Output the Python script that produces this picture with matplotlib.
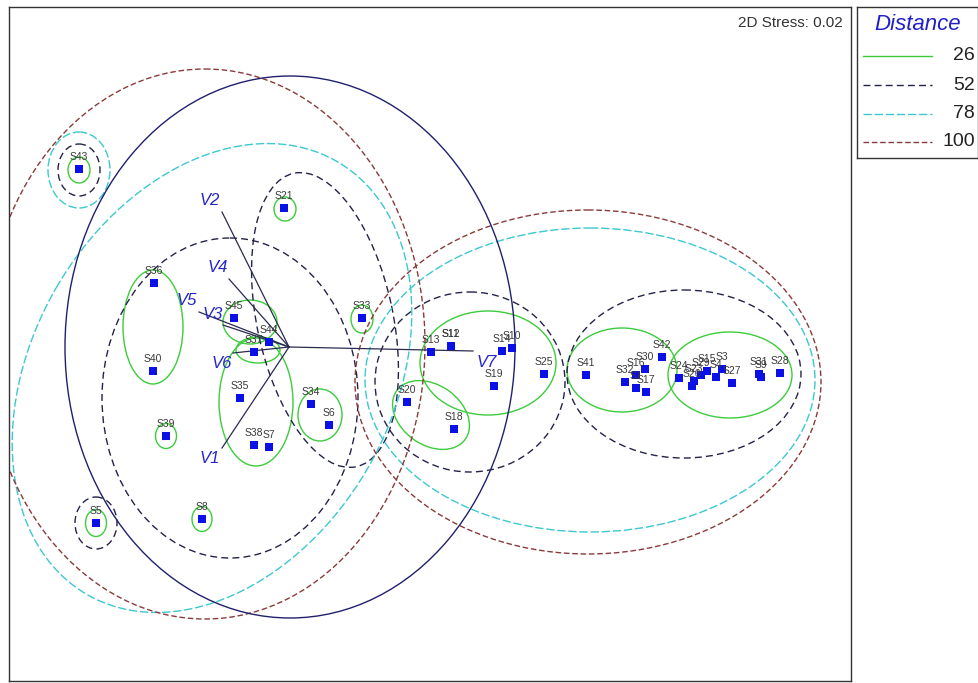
import matplotlib.pyplot as plt
from matplotlib.patches import Ellipse

plt.rcParams['font.family'] = ['Liberation Sans', 'DejaVu Sans']

# MDS sample positions (plot units, y grows downward)
samples = ['S43', 'S21', 'S36', 'S40', 'S45', 'S44', 'S37', 'S35', 'S34', 'S6',
           'S39', 'S38', 'S7', 'S33', 'S5', 'S8', 'S13', 'S12', 'S11', 'S14',
           'S10', 'S19', 'S25', 'S20', 'S18', 'S41', 'S32', 'S16', 'S30', 'S1',
           'S17', 'S42', 'S24', 'S26', 'S23', 'S29', 'S15', 'S4', 'S3', 'S27',
           'S31', 'S9', 'S28']
sx = [79, 284, 154, 153, 234, 269, 254, 240, 311, 329,
      166, 254, 269, 362, 96, 202, 431, 451, 451, 502,
      512, 494, 544, 407, 454, 586, 625, 636, 645, 636,
      646, 662, 679, 692, 694, 701, 707, 716, 722, 732,
      759, 761, 780]
sy = [169, 208, 283, 371, 318, 342, 352, 398, 404, 425,
      436, 445, 447, 318, 523, 519, 352, 346, 346, 351,
      348, 386, 374, 402, 429, 375, 382, 375, 369, 388,
      392, 357, 378, 386, 381, 375, 371, 377, 369, 383,
      374, 377, 373]

# variable vectors
vec_names = ['V1', 'V2', 'V3', 'V4', 'V5', 'V6', 'V7']
vec_x = [222, 222, 223, 229, 199, 233, 473]
vec_y = [448, 212, 325, 279, 312, 353, 351]
vec_lab_x = [210, 210, 213, 218, 187, 222, 487]
vec_lab_y = [458, 200, 314, 267, 300, 363, 362]
origin = (289, 347)
circle = (290, 347, 225, 271)

# cluster outlines at each distance level: centre x, centre y, half width, half height, angle
levels = ['26', '52', '78', '100']
g26_cx = [79, 285, 153, 250, 258, 256, 320, 166, 362, 96, 202, 488, 431, 622, 730]
g26_cy = [170, 209, 327, 322, 350, 402, 415, 436, 319, 523, 519, 363, 415, 370, 375]
g26_rx = [11, 11, 30, 27, 22, 37, 22, 10.5, 11, 10.5, 10, 68, 42, 55, 62]
g26_ry = [13, 12, 57, 22, 13, 64, 26, 12.5, 14, 13.5, 12.5, 52, 30, 42, 43]
g26_ang = [0, 0, 0, 0, 0, 0, 0, 0, 0, 0, 0, 0, 35, 0, 0]

g52_cx = [79, 96, 325, 230, 470, 684]
g52_cy = [170, 523, 320, 398, 382, 374]
g52_rx = [21, 21, 150, 128, 95, 117]
g52_ry = [26, 26, 68, 160, 90, 84]
g52_ang = [0, 0, 78, 0, 0, 0]

g78_cx = [79, 212, 590]
g78_cy = [170, 378, 380]
g78_rx = [31, 250, 225]
g78_ry = [38, 180, 152]
g78_ang = [0, -60, 0]

g100_cx = [205, 588]
g100_cy = [344, 382]
g100_rx = [220, 233]
g100_ry = [275, 172]
g100_ang = [0, 0]

groups = [(g26_cx, g26_cy, g26_rx, g26_ry, g26_ang),
          (g52_cx, g52_cy, g52_rx, g52_ry, g52_ang),
          (g78_cx, g78_cy, g78_rx, g78_ry, g78_ang),
          (g100_cx, g100_cy, g100_rx, g100_ry, g100_ang)]
colors = ['#3ccc3c', '#23234a', '#3cc8d0', '#8a3a3a']
styles = ['-', (0, (5, 3)), (0, (6, 2)), (0, (4, 2))]

W, H = 979, 683
fig = plt.figure(figsize=(W / 100, H / 100), dpi=100)
ax = fig.add_axes([9 / W, 1 - 681 / H, 842 / W, 674 / H])
ax.set_xlim(9, 851)
ax.set_ylim(681, 7)
ax.set_xticks([])
ax.set_yticks([])
for s in ax.spines.values():
    s.set_linewidth(1.0)
    s.set_color('#333333')

# outlines
for (cx, cy, rx, ry, ang), c, ls in zip(groups, colors, styles):
    for i in range(len(cx)):
        ax.add_patch(Ellipse((cx[i], cy[i]), 2 * rx[i], 2 * ry[i], angle=ang[i],
                             fill=False, ec=c, ls=ls, lw=1.0, zorder=2))

# vector circle
ax.add_patch(Ellipse(circle[:2], 2 * circle[2], 2 * circle[3], fill=False,
                     ec='#20206e', lw=1.0, zorder=2))

# vectors
for i in range(len(vec_names)):
    ax.plot([origin[0], vec_x[i]], [origin[1], vec_y[i]], color='#2a2a50', lw=0.9, zorder=3)
    ax.text(vec_lab_x[i], vec_lab_y[i], vec_names[i], color='#2626c8', fontsize=12,
            style='italic', ha='center', va='center', zorder=5)

# samples
ax.scatter(sx, sy, marker='s', s=30, color='#0a10e6', zorder=4, linewidths=0)
for n, x, y in zip(samples, sx, sy):
    ax.text(x, y - 12, n, fontsize=7.5, color='#3a3a3a', ha='center', va='center', zorder=5)

ax.text(843, 23, '2D Stress: 0.02', fontsize=11, color='#333333', ha='right', va='center')

# legend box
lg = fig.add_axes([857 / W, 1 - 158 / H, 121 / W, 151 / H])
lg.set_xlim(857, 978)
lg.set_ylim(158, 7)
lg.set_xticks([])
lg.set_yticks([])
for s in lg.spines.values():
    s.set_linewidth(1.0)
    s.set_color('#333333')
lg.text(918, 24, 'Distance', fontsize=16, style='italic', color='#2020c8',
        ha='center', va='center')
row_y = [56, 85, 114, 142]
for lab, c, ls, yy in zip(levels, colors, styles, row_y):
    lg.plot([863, 932], [yy, yy], color=c, ls=ls, lw=1.0)
    lg.text(975, yy, lab, fontsize=14, color='#222222', ha='right', va='center')

fig.savefig('out.png', dpi=100)
